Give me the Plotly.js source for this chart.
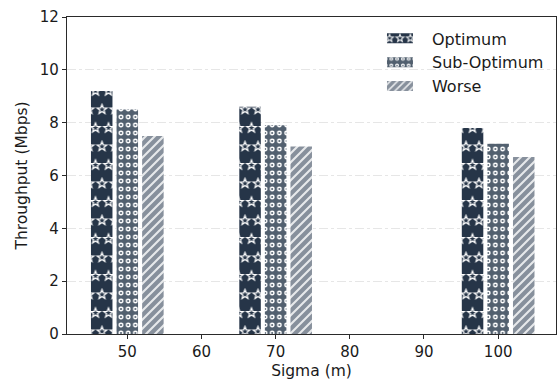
<!DOCTYPE html>
<html>
<head>
<meta charset="utf-8">
<script src="https://cdn.plot.ly/plotly-3.0.1.min.js"></script>
<style>
  html, body { margin: 0; padding: 0; background: #ffffff; }
  #chart { width: 557px; height: 385px; }
</style>
</head>
<body>
<div id="chart"></div>
<script>
// Throughput per sigma value for the three strategies
const sigma = [50, 70, 100];
const optimum = [9.2, 8.6, 7.8];
const subOptimum = [8.5, 7.9, 7.2];
const worse = [7.5, 7.1, 6.7];
const seriesNames = ['Optimum', 'Sub-Optimum', 'Worse'];
const xTicks = [50, 60, 70, 80, 90, 100];
const yTicks = [0, 2, 4, 6, 8, 10, 12];

// Styling
const colors = ['#263548', '#52606f', '#87909c'];
const barWidth = 2.9;
const offsets = [-4.9, -1.45, 2.0];
const shapes = ['x', '.', '/'];
const SVGNS = 'http://www.w3.org/2000/svg';

function barTrace(i, values) {
  return {
    type: 'bar',
    name: seriesNames[i],
    x: sigma,
    y: values,
    width: barWidth,
    offset: offsets[i],
    hoverinfo: 'skip',
    marker: {
      color: colors[i],
      line: { width: 0 },
      pattern: {
        shape: shapes[i],
        fillmode: 'replace',
        bgcolor: colors[i],
        fgcolor: '#ffffff',
        size: 8,
        solidity: 0.3
      }
    }
  };
}

const data = [
  barTrace(0, optimum),
  barTrace(1, subOptimum),
  barTrace(2, worse)
];

const axisLine = '#2a2a2a';
const layout = {
  width: 557,
  height: 385,
  margin: { l: 67, r: 1, t: 17, b: 51 },
  paper_bgcolor: '#ffffff',
  plot_bgcolor: '#ffffff',
  font: { family: 'DejaVu Sans, sans-serif', size: 15, color: '#1a1a1a' },
  barmode: 'overlay',
  showlegend: true,
  legend: {
    x: 0.6155, y: 0.986, xanchor: 'left', yanchor: 'top',
    bgcolor: 'rgba(0,0,0,0)', borderwidth: 0,
    itemwidth: 54,
    font: { size: 16 }
  },
  xaxis: {
    range: [41.87, 107.8],
    tickvals: xTicks,
    ticktext: xTicks.map(String),
    tickfont: { size: 15 },
    ticks: 'outside', ticklen: 4, tickwidth: 1, tickcolor: axisLine,
    showline: true, mirror: true, linecolor: axisLine, linewidth: 1.2,
    showgrid: false, zeroline: false,
    title: { text: 'Sigma (m)', standoff: 5, font: { size: 15.5 } }
  },
  yaxis: {
    range: [0, 12],
    tickvals: yTicks,
    ticktext: yTicks.map(String),
    tickfont: { size: 15 },
    ticks: 'outside', ticklen: 4, tickwidth: 1, tickcolor: axisLine,
    showline: true, mirror: true, linecolor: axisLine, linewidth: 1.2,
    showgrid: true, gridcolor: '#e0e0e0', gridwidth: 0.8, griddash: 'dashdot',
    zeroline: false,
    title: { text: 'Throughput (Mbps)', standoff: 8, font: { size: 15.5 } }
  }
};

// --- hatch textures: stars, rings and diagonal stripes ---
function starPath(cx, cy, R, r) {
  let d = '';
  for (let k = 0; k < 10; k++) {
    const a = -Math.PI / 2 + k * Math.PI / 5;
    const rad = k % 2 === 0 ? R : r;
    d += (k === 0 ? 'M' : 'L') + (cx + rad * Math.cos(a)).toFixed(2) + ',' + (cy + rad * Math.sin(a)).toFixed(2);
  }
  return d + 'Z';
}

function resetPattern(pat, w, h, bg, shift) {
  while (pat.firstChild) pat.removeChild(pat.firstChild);
  pat.setAttribute('width', w + 'px');
  pat.setAttribute('height', h + 'px');
  if (shift) pat.setAttribute('patternTransform', 'translate(' + shift + ',0)');
  const rect = document.createElementNS(SVGNS, 'rect');
  rect.setAttribute('width', w);
  rect.setAttribute('height', h);
  rect.setAttribute('fill', bg);
  pat.appendChild(rect);
}

function addPath(pat, d, attrs) {
  const p = document.createElementNS(SVGNS, 'path');
  p.setAttribute('d', d);
  Object.keys(attrs).forEach(k => p.setAttribute(k, attrs[k]));
  pat.appendChild(p);
}

function starTexture(pat, inLegend) {
  const W = 13, H = 37;
  resetPattern(pat, W, H, colors[0], inLegend ? 0 : 2.5);
  const pts = [[0, 0], [W, 0], [0, H], [W, H], [W / 2, H / 2]];
  addPath(pat, pts.map(q => starPath(q[0], q[1], 5.0, 2.1)).join(''),
    { fill: 'none', stroke: '#ffffff', 'stroke-width': '1.25', 'stroke-linejoin': 'miter' });
}

function ringTexture(pat) {
  const W = 7.2, H = 8;
  resetPattern(pat, W, H, colors[1]);
  const c = document.createElementNS(SVGNS, 'circle');
  c.setAttribute('cx', W / 2);
  c.setAttribute('cy', H / 2);
  c.setAttribute('r', 1.7);
  c.setAttribute('fill', 'none');
  c.setAttribute('stroke', '#ffffff');
  c.setAttribute('stroke-width', '1.4');
  pat.appendChild(c);
}

function stripeTexture(pat) {
  const S = 9;
  resetPattern(pat, S, S, colors[2]);
  const d = 'M' + (-S / 2) + ',' + (S / 2) + 'L' + (S / 2) + ',' + (-S / 2) +
            'M0,' + S + 'L' + S + ',0' +
            'M' + (S / 2) + ',' + (S * 1.5) + 'L' + (S * 1.5) + ',' + (S / 2);
  addPath(pat, d, { fill: 'none', stroke: '#ffffff', 'stroke-opacity': '0.8', 'stroke-width': '2.1' });
}

function patternOf(el) {
  const fill = el.style.fill || el.getAttribute('fill') || '';
  const m = /#([^"')\s]+)/.exec(fill);
  return m ? document.getElementById(m[1]) : null;
}

function applyTextures(gd) {
  const builders = [starTexture, ringTexture, stripeTexture];
  const traces = gd.querySelectorAll('.barlayer .trace');
  traces.forEach((tr, i) => {
    const seen = new Set();
    tr.querySelectorAll('path').forEach(p => {
      const pat = patternOf(p);
      if (pat && !seen.has(pat)) { seen.add(pat); builders[i](pat, false); }
    });
  });
  const items = gd.querySelectorAll('.legend .traces');
  items.forEach((item, i) => {
    item.querySelectorAll('.legendpoints path').forEach(p => {
      p.setAttribute('d', 'M13,5H-13V-5H13Z');
      const pat = patternOf(p);
      if (pat) builders[i](pat, true);
    });
  });
}

const gd = document.getElementById('chart');
Plotly.newPlot(gd, data, layout, { staticPlot: true, displayModeBar: false })
  .then(() => applyTextures(gd));
</script>
</body>
</html>
